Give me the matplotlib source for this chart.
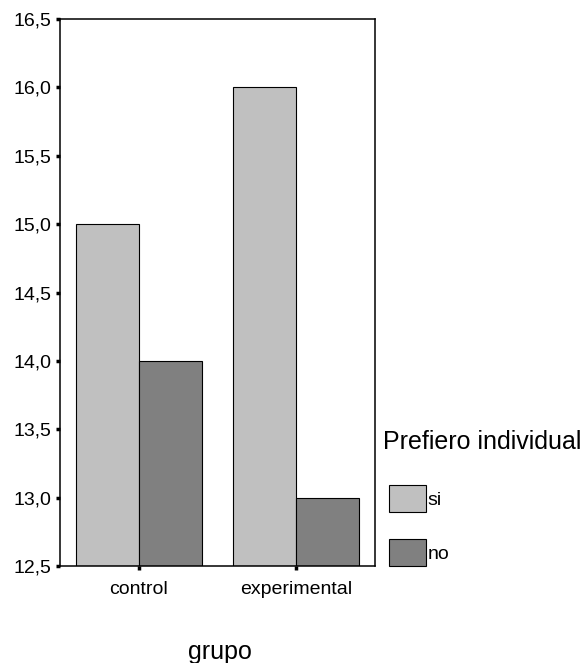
import matplotlib
matplotlib.use("Agg")
import matplotlib.pyplot as plt
import numpy as np
from matplotlib.patches import Patch

plt.rcParams['font.family'] = ['Liberation Sans', 'DejaVu Sans']

groups = ["control", "experimental"]
series_names = ["si", "no"]
legend_title = "Prefiero individual"
si_values = [15.0, 16.0]
no_values = [14.0, 13.0]
y_ticks = [12.5, 13.0, 13.5, 14.0, 14.5, 15.0, 15.5, 16.0, 16.5]
colors = ["#c0c0c0", "#808080"]

fig = plt.figure(figsize=(5.86, 6.63), dpi=100)
W, H = 586, 663
ax = fig.add_axes([60 / W, 1 - 566 / H, 315 / W, 547 / H])

x = np.arange(len(groups))
width = 0.4
base = 12.5
for vals, off, col in [(si_values, -width / 2, colors[0]), (no_values, width / 2, colors[1])]:
    ax.bar(x + off, np.array(vals) - base, width, bottom=base, color=col,
           edgecolor="black", linewidth=0.8, zorder=2)

ax.set_xlim(-0.5, 1.5)
ax.set_ylim(12.5, 16.5)
ax.set_yticks(y_ticks)
ax.set_yticklabels([f"{t:.1f}".replace(".", ",") for t in y_ticks], fontsize=14)
ax.set_xticks(x)
ax.set_xticklabels(groups, fontsize=14)
ax.tick_params(axis="both", direction="out", length=3, width=2.5, pad=3)
ax.tick_params(axis="x", pad=8)
for s in ax.spines.values():
    s.set_linewidth(1.1)

fig.text(220 / W, 1 - 652 / H, "grupo", ha="center", va="center", fontsize=18)

# legend: title placed above the swatches
fig.text(383 / W, 1 - 442 / H, legend_title, ha="left", va="center", fontsize=18)
handles = [Patch(facecolor=c, edgecolor="black", linewidth=0.8) for c in colors]
leg = fig.legend(handles, series_names,
                 loc="upper left", bbox_to_anchor=(389 / W, 1 - 485 / H),
                 frameon=False, fontsize=14,
                 handlelength=1.9, handleheight=1.75, handletextpad=0.1,
                 labelspacing=1.4, borderaxespad=0, borderpad=0)

fig.savefig("out.png", dpi=100)
